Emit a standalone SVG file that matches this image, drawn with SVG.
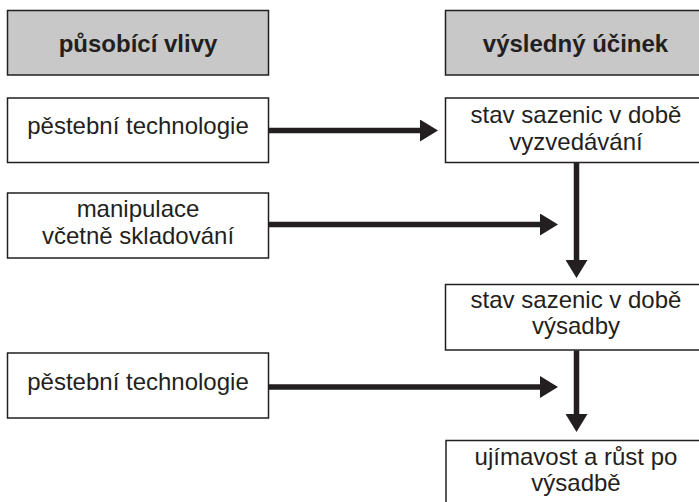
<svg xmlns="http://www.w3.org/2000/svg" width="699" height="502" viewBox="0 0 699 502">
<style>
.box{fill:#ffffff;stroke:#231f20;stroke-width:1.5}
.hdr{fill:#c8c8c8;stroke:#231f20;stroke-width:1.5}
.t{font-family:"Liberation Sans",Arial,sans-serif;font-size:24px;fill:#231f20;text-anchor:middle}
.b{font-weight:bold}
.c{stroke:#231f20;stroke-width:5.5;fill:none}
</style>
<defs>
<marker id="ah" markerUnits="userSpaceOnUse" markerWidth="19" markerHeight="22" refX="5" refY="11" orient="auto" viewBox="0 0 19 22">
<path d="M0,0 L18,11 L0,22 z" fill="#231f20"/>
</marker>
</defs>
<rect width="699" height="502" fill="#ffffff"/>
<g id="hdr-left"><rect class="hdr" x="7.5" y="10.5" width="261" height="64.5"/><text class="t b" x="138" y="51.5">působící vlivy</text></g>
<g id="hdr-right"><rect class="hdr" x="445.5" y="10.5" width="262" height="64.5"/><text class="t b" x="575.5" y="51.5">výsledný účinek</text></g>
<g id="l1"><rect class="box" x="7.5" y="98" width="261" height="64.5"/><text class="t" x="138" y="134">pěstební technologie</text></g>
<g id="l2"><rect class="box" x="7.5" y="193" width="261" height="65"/><text class="t" x="138" y="217">manipulace</text><text class="t" x="138" y="244">včetně skladování</text></g>
<g id="l3"><rect class="box" x="7.5" y="353" width="261" height="65"/><text class="t" x="138" y="390">pěstební technologie</text></g>
<g id="r1"><rect class="box" x="445.5" y="98" width="262" height="64.5"/><text class="t" x="576" y="123">stav sazenic v době</text><text class="t" x="576" y="150">vyzvedávání</text></g>
<g id="r2"><rect class="box" x="445.5" y="284.5" width="262" height="65.5"/><text class="t" x="576" y="308">stav sazenic v době</text><text class="t" x="576" y="334">výsadby</text></g>
<g id="r3"><rect class="box" x="446" y="440.5" width="262" height="70"/><text class="t" x="576" y="465">ujímavost a růst po</text><text class="t" x="576" y="491">výsadbě</text></g>
<g id="connectors">
<line class="c" x1="269" y1="130.5" x2="425" y2="130.5" marker-end="url(#ah)"/>
<line class="c" x1="269" y1="224.5" x2="545" y2="224.5" marker-end="url(#ah)"/>
<line class="c" x1="269" y1="387" x2="545" y2="387" marker-end="url(#ah)"/>
<line class="c" x1="576.5" y1="163" x2="576.5" y2="265" marker-end="url(#ah)"/>
<line class="c" x1="576.5" y1="350.5" x2="576.5" y2="419" marker-end="url(#ah)"/>
</g>
</svg>
